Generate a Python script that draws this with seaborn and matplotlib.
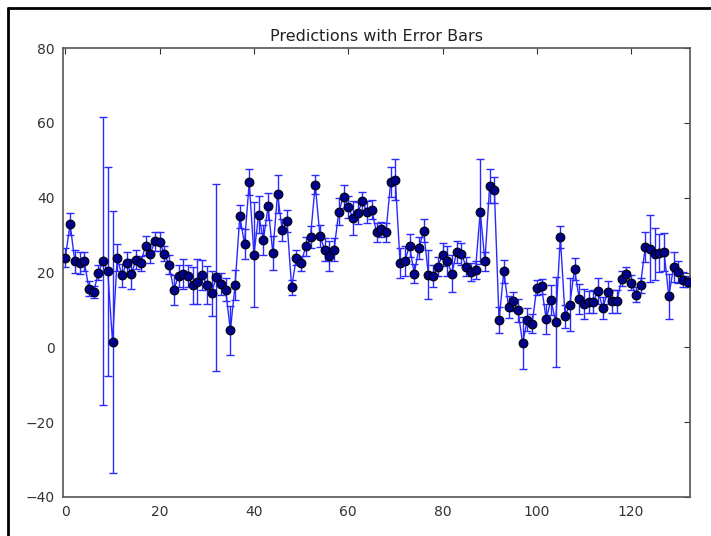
import numpy as np
import pandas as pd
import matplotlib
matplotlib.use("Agg")
import matplotlib.pyplot as plt
from matplotlib.lines import Line2D
import seaborn as sns

title = "Predictions with Error Bars"

predictions = [
    24, 33, 23, 22.5, 23, 15.7, 14.8, 20, 23, 20.3,
    1.5, 24, 19.2, 22.5, 19.7, 23.4, 22.5, 27.2, 25, 28.3,
    28.2, 25, 22.1, 15.3, 19.1, 19.7, 19, 16.6, 17.5, 19.4,
    16.7, 14.5, 18.7, 17, 15.4, 4.5, 16.6, 35, 27.7, 44.1,
    24.8, 35.5, 28.6, 37.7, 25.2, 41, 31.3, 33.7, 16.1, 23.9,
    22.5, 27, 29.5, 43.5, 29.8, 26.1, 24.5, 26.1, 36.3, 40.3,
    37.5, 34.6, 35.9, 39, 36.1, 36.8, 30.7, 31.6, 30.7, 44.1,
    44.8, 22.5, 23, 27.2, 19.7, 26.5, 31.2, 19.4, 19.1, 21.6,
    24.8, 23, 19.7, 25.5, 25, 21.6, 20.1, 20.7, 36.3, 23,
    43.2, 42, 7.2, 20.3, 10.8, 12.3, 9.9, 1.1, 7.4, 6.3,
    15.9, 16.3, 7.5, 12.7, 6.8, 29.5, 8.3, 11.4, 20.9, 13,
    11.7, 12.1, 12.2, 15.1, 10.5, 14.7, 12.3, 12.3, 18.3, 19.6,
    17.2, 14.1, 16.6, 26.8, 26.4, 25, 25.2, 25.5, 13.6, 21.4,
    20.1, 18.1, 17.5,
]

errors = [
    2.5, 3, 3, 3, 2.5, 2, 1.5, 2, 38.5, 28,
    35, 3.5, 3, 3, 4, 2.5, 2, 2.5, 2.5, 2.5,
    2.5, 2, 2.5, 4, 3, 4, 3, 5, 6, 4,
    5, 6, 25, 3, 3, 6.5, 4, 3, 4, 3.5,
    14, 5, 4, 3.6, 4.5, 5, 3, 3, 2, 2,
    2, 2.5, 3, 2.5, 3, 3, 4, 3, 3.5, 3,
    3, 4.5, 3, 2.5, 3, 2.5, 2.5, 2, 2.5, 4,
    5.5, 4, 4, 3, 2.5, 3, 3, 6.5, 3, 2.5,
    3, 4, 5, 3, 3, 2.5, 2.5, 2.5, 14, 2.5,
    4.5, 3.5, 3.5, 3, 3, 2.5, 3, 7, 3, 2.5,
    2, 2, 4, 4, 12, 3, 3, 7, 3, 4,
    4, 3, 3, 3.5, 3, 3, 3, 3, 2, 2,
    2, 2, 2, 4, 9, 7, 5, 5, 6, 4,
    3, 2, 1.5,
]

x_ticks = [0, 20, 40, 60, 80, 100, 120]
y_ticks = [-40, -20, 0, 20, 40, 60, 80]

df = pd.DataFrame({"index": np.arange(len(predictions)),
                   "prediction": predictions,
                   "error": errors})

sns.set_style("white")
plt.rcParams["font.family"] = ["DejaVu Sans"]

fig = plt.figure(figsize=(7.11, 5.36), dpi=100)
ax = fig.add_axes([63 / 711, 39 / 536, (690 - 63) / 711, (497 - 48) / 536])

ax.errorbar(df["index"], df["prediction"], yerr=df["error"], fmt="none",
            ecolor="#2a2aff", elinewidth=1.0, capsize=3, capthick=1.0, zorder=2)
sns.lineplot(data=df, x="index", y="prediction", ax=ax, color="#2a2aff",
             linewidth=1.0, marker="o", markersize=6.3,
             markerfacecolor="#00008a", markeredgecolor="black",
             markeredgewidth=0.8, zorder=3)

ax.set_xlim(-0.5, 132.5)
ax.set_ylim(-40, 80)
ax.set_xticks(x_ticks)
ax.set_yticks(y_ticks)
ax.set_xlabel("")
ax.set_ylabel("")
ax.set_title(title, fontsize=11.5, color="#222222", pad=5)
ax.tick_params(direction="in", length=4, width=0.8, top=True, right=True,
               labelsize=10, colors="#333333", pad=6)
for s in ax.spines.values():
    s.set_visible(True)
    s.set_color("#555555")
    s.set_linewidth(1.2)

# outer black frame of the screenshot (left and top edges)
fig.add_artist(Line2D([8 / 711, 8 / 711], [0, 1 - 8 / 536], transform=fig.transFigure,
                      color="black", linewidth=2))
fig.add_artist(Line2D([8 / 711, 1], [1 - 8 / 536, 1 - 8 / 536], transform=fig.transFigure,
                      color="black", linewidth=2))

fig.savefig("out.png", dpi=100)
